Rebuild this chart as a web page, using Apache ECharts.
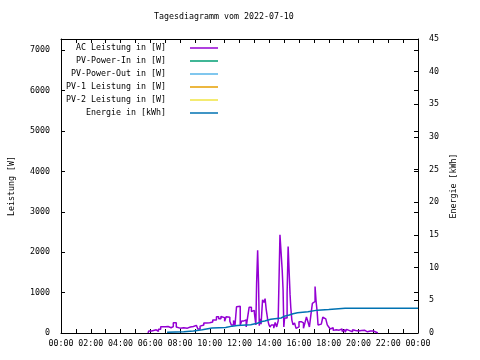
<!DOCTYPE html>
<html><head><meta charset="utf-8">
<script src="https://cdn.jsdelivr.net/npm/echarts@6/dist/echarts.min.js"></script>
<style>html,body{margin:0;padding:0;background:#fff}#c{width:480px;height:360px}</style>
</head><body><div id="c"></div>
<script>
const titleText = 'Tagesdiagramm vom 2022-07-10';
const seriesNames = ['AC Leistung in [W]','PV-Power-In in [W]','PV-Power-Out in [W]','PV-1 Leistung in [W]','PV-2 Leistung in [W]','Energie in [kWh]'];
const seriesColors = ['#9400d3','#009e73','#56b4e9','#e69f00','#f0e442','#0072b2'];
// time in hours of day
const acTime = [5.85,5.9,6.1,6.4,6.55,6.7,7.0,7.2,7.4,7.55,7.75,7.85,8.0,8.25,8.5,8.7,8.9,9.1,9.2,9.35,9.45,9.6,9.8,10.0,10.2,10.45,10.6,10.75,10.85,11.0,11.1,11.2,11.35,11.45,11.6,11.7,11.8,11.9,12.05,12.15,12.3,12.45,12.55,12.65,12.8,12.9,13.0,13.1,13.15,13.22,13.28,13.33,13.37,13.45,13.55,13.65,13.72,13.8,13.9,13.98,14.05,14.15,14.3,14.4,14.5,14.6,14.72,14.8,14.87,14.93,14.98,15.03,15.1,15.2,15.27,15.33,15.4,15.45,15.52,15.6,15.7,15.8,15.9,16.0,16.15,16.3,16.4,16.5,16.6,16.7,16.8,16.9,17.02,17.08,17.15,17.22,17.28,17.35,17.5,17.6,17.7,17.8,17.9,18.0,18.1,18.2,18.3,18.4,18.5,18.6,18.7,18.8,18.9,19.0,19.1,19.2,19.3,19.4,19.5,19.6,19.7,19.8,19.9,20.0,20.1,20.2,20.3,20.4,20.5,20.6,20.7,20.8,20.9,21.0,21.1,21.2,21.3];
const acValue = [0,20,50,80,40,90,155,160,130,160,255,150,120,130,120,150,160,190,200,100,170,200,250,255,270,320,400,350,410,380,290,400,390,290,200,310,200,650,660,200,300,320,150,400,640,530,560,500,200,1230,2050,1230,180,350,220,820,760,850,570,320,200,150,200,120,260,150,300,2430,1970,1560,1060,150,370,370,980,2140,1580,950,620,320,200,250,115,150,280,250,115,250,400,280,150,450,735,780,1150,780,530,200,220,180,390,350,350,200,150,100,130,65,80,40,70,30,100,40,80,20,90,60,90,30,80,60,90,50,80,60,20,70,60,30,60,50,20,50,40,20,0];
const energyTime = [7.13,8.25,8.9,9.5,10.15,11.07,11.5,11.85,12.75,13.2,13.5,13.7,14.1,14.8,15.0,15.35,15.6,15.9,16.6,17.25,18.0,19.1,24];
const energyValue = [0.1,0.2,0.3,0.5,0.75,0.85,1.05,1.15,1.25,1.5,1.75,1.85,2.1,2.3,2.55,2.75,2.95,3.1,3.25,3.5,3.6,3.8,3.8];
const leftTicks = {min:0, max:7280, interval:1000};
const rightTicks = {min:0, max:45, interval:5};
const xTicks = {min:0, max:24, interval:2};

const FONT = 'DejaVu Sans Mono';
const fs = 8.3;
const pad = n => (n<10?'0':'')+n;
const zip = (a,b) => a.map((t,i)=>[t,b[i]]);

const chart = echarts.init(document.getElementById('c'), null, {renderer:'canvas'});
const rowY = [49,62,75,88,101,114];
const legends = seriesNames.map((n,i)=>({
  data:[n], right:262, top:rowY[i]-5, orient:'vertical', align:'right', padding:0,
  icon:'rect', itemWidth:28, itemHeight:1.5, selectedMode:false,
  textStyle:{fontFamily:FONT, fontSize:fs, color:'#000', padding:[0,19,0,0]}
}));
const lineSeries = (i, data, yIdx, step) => ({
  name: seriesNames[i], type:'line', data, xAxisIndex:0, yAxisIndex:yIdx, step,
  symbol:'none', color: seriesColors[i], lineStyle:{width:1.5, color:seriesColors[i]}, animation:false
});
const axisLine = {show:true, onZero:false, lineStyle:{color:'#000', width:1}};
const axisCommon = {
  axisLine: axisLine,
  axisTick:{show:true, inside:true, length:4, lineStyle:{color:'#000'}},
  splitLine:{show:false},
  axisLabel:{fontFamily:FONT, fontSize:fs, color:'#000'}
};
chart.setOption({
  animation:false,
  textStyle:{fontFamily:FONT},
  title:{text:titleText, left:154, top:13, padding:0, textStyle:{fontFamily:FONT, fontSize:fs, fontWeight:'normal', color:'#000'}},
  legend: legends,
  grid:{left:58, right:62, top:39, bottom:27, show:false},
  xAxis:[
    Object.assign({}, axisCommon, {type:'value', position:'bottom', min:xTicks.min, max:xTicks.max, interval:xTicks.interval,
      minorTick:{show:true, splitNumber:2, length:4, lineStyle:{color:'#000'}},
      axisLabel:Object.assign({}, axisCommon.axisLabel, {margin:7, formatter:v=>pad(v%24)+':00'})}),
    Object.assign({}, axisCommon, {type:'value', position:'top', min:xTicks.min, max:xTicks.max, interval:xTicks.interval,
      minorTick:{show:true, splitNumber:2, length:4, lineStyle:{color:'#000'}},
      axisLabel:{show:false}})
  ],
  yAxis:[
    Object.assign({}, axisCommon, {type:'value', position:'left', min:leftTicks.min, max:leftTicks.max, interval:leftTicks.interval,
      name:'Leistung [W]', nameLocation:'middle', nameRotate:90, nameGap:45,
      nameTextStyle:{fontFamily:FONT, fontSize:fs, color:'#000'},
      axisLabel:Object.assign({}, axisCommon.axisLabel, {margin:11, showMaxLabel:false, formatter:v=>v%1000===0?String(v):''})}),
    Object.assign({}, axisCommon, {type:'value', position:'right', min:rightTicks.min, max:rightTicks.max, interval:rightTicks.interval,
      name:'Energie [kWh]', nameLocation:'middle', nameRotate:90, nameGap:32,
      nameTextStyle:{fontFamily:FONT, fontSize:fs, color:'#000'},
      axisLabel:Object.assign({}, axisCommon.axisLabel, {margin:11})}),
    Object.assign({}, axisCommon, {type:'value', position:'right', min:leftTicks.min, max:leftTicks.max, interval:leftTicks.interval,
      axisLine:{show:false, onZero:false}, axisLabel:{show:false}})
  ],
  series:[
    lineSeries(0, zip(acTime, acValue), 0, 'start'),
    lineSeries(1, [], 0, false),
    lineSeries(2, [], 0, false),
    lineSeries(3, [], 0, false),
    lineSeries(4, [], 0, false),
    lineSeries(5, zip(energyTime, energyValue), 1, 'start')
  ]
});
</script></body></html>
